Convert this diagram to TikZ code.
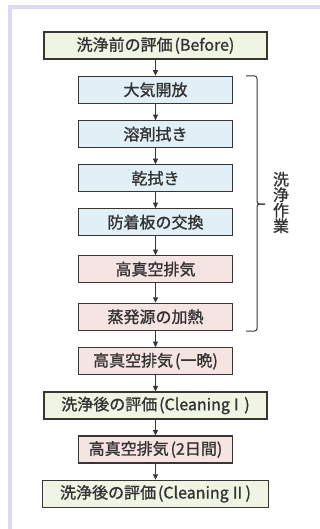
\documentclass[tikz,border=0pt]{standalone}
\usepackage{fontspec}
\setmainfont{Noto Sans CJK JP}[FakeBold=1.2]
\usetikzlibrary{arrows.meta}
\definecolor{framec}{HTML}{DCDAEE}
\definecolor{gfill}{HTML}{EFF4E3}
\definecolor{bfill}{HTML}{E1EFF6}
\definecolor{pfill}{HTML}{F6E4E3}
\definecolor{edgec}{HTML}{3A3535}
\definecolor{txtc}{HTML}{333333}
\newcommand{\lp}{\hspace{0.12em}(}
\newcommand{\rp}{)}
\begin{document}
\begin{tikzpicture}[x=1pt,y=-1pt,
  box/.style={draw=edgec, line width=1.1pt, minimum height=27pt, inner sep=0pt,
    font=\fontsize{16}{17}\selectfont, text=txtc},
  wide/.style={box, minimum width=223pt, fill=gfill},
  bluebox/.style={box, minimum width=154.5pt, fill=bfill},
  pinkbox/.style={box, minimum width=154.5pt, fill=pfill},
  arr/.style={-{Triangle[length=5.5pt,width=5pt]}, draw=edgec, line width=0.9pt},
  brack/.style={draw=edgec, line width=1pt, rounded corners=2.5pt}]
\useasboundingbox (0,0) rectangle (320,529);
\fill[framec] (8,5) rectangle (320,9);
\fill[framec] (8,5) rectangle (12,529);

\node[wide] (n1) at (155.5,45.5) {洗浄前の評価\lp Before\rp};
\node[bluebox] (n2) at (155.5,89.8) {大気開放};
\node[bluebox] (n3) at (155.5,134.2) {溶剤拭き};
\node[bluebox] (n4) at (155.5,178.3) {乾拭き};
\node[bluebox] (n5) at (155.5,222.2) {防着板の交換};
\node[pinkbox] (n6) at (155.5,269.2) {高真空排気};
\node[pinkbox] (n7) at (155.5,316.8) {蒸発源の加熱};
\node[pinkbox] (n8) at (155.5,361.2) {高真空排気\lp 一晩\rp};
\node[wide] (n9) at (155.5,405.5) {洗浄後の評価\lp Cleaning\hspace{-0.1em}Ⅰ\rp};
\node[pinkbox] (n10) at (155.5,449.5) {高真空排気\lp 2日間\rp};
\node[wide, minimum width=225.3pt] (n11) at (155.5,493.8) {洗浄後の評価\lp Cleaning\hspace{0.05em}Ⅱ\rp};

\foreach \a/\b in {n1/n2,n2/n3,n3/n4,n4/n5,n5/n6,n6/n7,n7/n8,n8/n9,n9/n10,n10/n11}
  \draw[arr] (\a.south) -- (\b.north);

\coordinate (bt) at (246,76);
\coordinate (bb) at (246,331);
\coordinate (bm) at (265,204);
\draw[brack] (bt) -- (257,76) -- (257,204) -- (bm);
\draw[brack] (bb) -- (257,331) -- (257,204) -- (bm);
\node[font=\fontsize{16}{15.5}\selectfont, text=txtc, align=center, inner sep=0pt] (lab) at (281,202.5) {洗\\浄\\作\\業};
\end{tikzpicture}
\end{document}
